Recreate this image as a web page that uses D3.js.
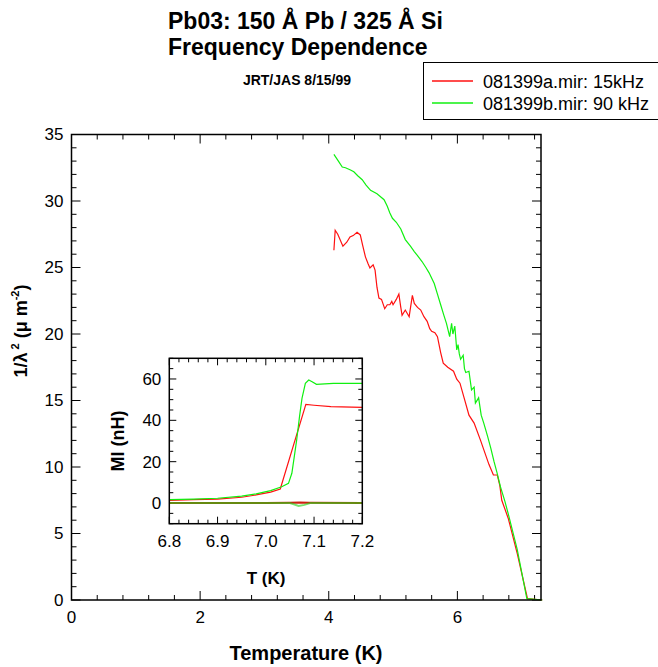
<!DOCTYPE html>
<html><head><meta charset="utf-8">
<script src="https://cdn.jsdelivr.net/npm/d3@7/dist/d3.min.js"></script>
<style>body{margin:0;background:#fff}svg{display:block}text{font-family:"Liberation Sans",Arial,sans-serif;fill:#000}</style>
</head><body>
<svg id="c" width="658" height="667"></svg>
<script>
// ---- data ----
const redT = [4.08,4.10,4.14,4.22,4.28,4.33,4.38,4.44,4.49,4.53,4.57,4.61,4.64,4.69,4.72,4.75,4.78,4.82,4.87,4.91,4.95,4.98,5.00,5.05,5.09,5.12,5.14,5.19,5.25,5.30,5.33,5.38,5.43,5.48,5.53,5.57,5.60,5.65,5.69,5.74,5.78,5.85,5.94,5.99,6.04,6.11,6.18,6.26,6.36,6.49,6.56,6.62,6.66,6.69,6.79,6.93,7.09,7.32];
const redV = [26.3,27.8,27.5,26.6,26.9,27.3,27.4,27.65,27.45,26.6,25.8,25.3,24.96,25.2,24.8,23.5,22.7,22.6,21.9,22.2,22.2,22.45,22.2,22.6,23.0,22.0,21.4,21.8,21.3,22.9,22.3,22.0,21.8,21.3,20.95,20.4,20.2,20.1,19.8,18.6,17.8,17.5,17.2,16.6,16.3,15.1,13.9,13.3,12.0,10.2,9.4,9.4,8.6,7.5,6.15,3.5,0.1,0.0];
const greenT = [4.08,4.15,4.21,4.26,4.33,4.39,4.45,4.52,4.58,4.65,4.75,4.86,4.91,4.95,4.99,5.05,5.12,5.19,5.27,5.33,5.38,5.45,5.51,5.56,5.64,5.69,5.74,5.79,5.83,5.88,5.91,5.93,5.96,5.99,6.01,6.03,6.05,6.09,6.11,6.13,6.18,6.22,6.26,6.28,6.33,6.37,6.41,6.47,6.52,6.57,6.62,6.67,6.74,6.80,6.93,7.08,7.32];
const greenV = [33.5,33.0,32.55,32.5,32.35,32.2,31.9,31.6,31.2,30.8,30.55,30.1,29.6,29.1,28.7,28.4,27.9,27.1,26.6,26.2,25.9,25.45,25.0,24.6,23.8,23.0,22.2,21.4,20.8,19.8,20.8,20.0,20.6,18.8,19.2,18.5,18.1,18.4,17.4,17.1,17.2,15.8,16.0,14.8,15.2,13.9,13.3,12.3,11.4,10.4,9.5,8.5,7.4,6.3,3.8,0.1,0.0];

const insetRedT = [6.80,6.85,6.90,6.95,6.98,7.01,7.03,7.083,7.10,7.135,7.20];
const insetRedV = [1.3,1.6,1.9,2.8,3.9,5.3,6.8,47.7,47.3,46.6,46.3];
const insetGreenT = [6.80,6.85,6.90,6.95,6.98,7.01,7.033,7.047,7.054,7.060,7.064,7.070,7.075,7.082,7.089,7.096,7.105,7.14,7.20];
const insetGreenV = [1.6,1.9,2.3,3.3,4.4,6.0,7.9,9.5,14.4,24,30.5,42,50.6,57.9,59.5,58.7,57.4,57.9,57.9];
const insetRedLowT = [6.80,7.00,7.05,7.07,7.09,7.20];
const insetRedLowV = [0.0,0.0,0.1,0.2,0.1,0.0];
const insetGreenLowT = [6.80,7.05,7.058,7.068,7.08,7.092,7.20];
const insetGreenLowV = [0.0,0.0,-0.6,-1.4,-0.9,0.0,0.0];

const legendLabels = ["081399a.mir: 15kHz","081399b.mir: 90 kHz"];
const xTicks = [0,2,4,6];
const yTicks = [0,5,10,15,20,25,30,35];
const insetXTicks = [6.8,6.9,7.0,7.1,7.2];
const insetYTicks = [0,20,40,60];

const RED = "#ff1010", GREEN = "#10f010";
const svg = d3.select("#c");

function zip(a,b){return a.map((t,i)=>[t,b[i]]);}

function frame(g, x, y, xMaj, xMin, yMaj, yMin, majL, minL, fs, xFmt, yFmt){
  const [x0,x1] = x.range(), [y0,y1] = y.range();
  g.append("rect").attr("x",x0).attr("y",y1).attr("width",x1-x0).attr("height",y0-y1)
    .attr("fill","#fff").attr("stroke","none");
  const tk = g.append("g").attr("stroke","#000").attr("stroke-width",1);
  xMin.forEach(v=>{const p=x(v);
    tk.append("line").attr("x1",p).attr("x2",p).attr("y1",y0).attr("y2",y0-minL);
    tk.append("line").attr("x1",p).attr("x2",p).attr("y1",y1).attr("y2",y1+minL);});
  xMaj.forEach(v=>{const p=x(v);
    tk.append("line").attr("x1",p).attr("x2",p).attr("y1",y0).attr("y2",y0-majL);
    tk.append("line").attr("x1",p).attr("x2",p).attr("y1",y1).attr("y2",y1+majL);});
  yMin.forEach(v=>{const p=y(v);
    tk.append("line").attr("y1",p).attr("y2",p).attr("x1",x0).attr("x2",x0+minL);
    tk.append("line").attr("y1",p).attr("y2",p).attr("x1",x1).attr("x2",x1-minL);});
  yMaj.forEach(v=>{const p=y(v);
    tk.append("line").attr("y1",p).attr("y2",p).attr("x1",x0).attr("x2",x0+majL);
    tk.append("line").attr("y1",p).attr("y2",p).attr("x1",x1).attr("x2",x1-majL);});
  xMaj.forEach(v=>g.append("text").attr("x",x(v)).attr("y",y0+fs+6).attr("text-anchor","middle")
    .attr("font-size",fs).text(xFmt(v)));
  yMaj.forEach(v=>g.append("text").attr("x",x0-8).attr("y",y(v)).attr("dy","0.35em").attr("text-anchor","end")
    .attr("font-size",fs).text(yFmt(v)));
}
function border(g,x,y){
  const [x0,x1] = x.range(), [y0,y1] = y.range();
  g.append("rect").attr("x",x0).attr("y",y1).attr("width",x1-x0).attr("height",y0-y1)
    .attr("fill","none").attr("stroke","#000").attr("stroke-width",1.5);
}

// ---- main plot ----
const x = d3.scaleLinear().domain([0,7.3]).range([71.5,541]);
const y = d3.scaleLinear().domain([0,35]).range([600,134.5]);
const main = svg.append("g");
frame(main, x, y, xTicks, d3.range(0.4,7.3,0.4).filter(v=>Math.abs(v/2-Math.round(v/2))>0.01),
  yTicks, d3.range(1,35,1).filter(v=>v%5!==0), 9, 5, 17, d3.format("d"), d3.format("d"));
const line = d3.line().x(d=>x(d[0])).y(d=>y(d[1]));
main.append("path").attr("d",line(zip(redT,redV))).attr("fill","none").attr("stroke",RED).attr("stroke-width",1.2);
main.append("path").attr("d",line(zip(greenT,greenV))).attr("fill","none").attr("stroke",GREEN).attr("stroke-width",1.2);
border(main,x,y);

main.append("text").attr("x",306).attr("y",660).attr("text-anchor","middle").attr("font-size",20)
  .attr("font-weight","bold").text("Temperature (K)");
const yl = main.append("text").attr("transform","translate(27,331) rotate(-90)").attr("text-anchor","middle")
  .attr("font-size",18).attr("font-weight","bold");
yl.append("tspan").text("1/λ");
yl.append("tspan").attr("font-size",11).attr("dy",-8).attr("dx",3).text("2");
yl.append("tspan").attr("dy",8).text(" (μ m");
yl.append("tspan").attr("font-size",11).attr("dy",-8).text("-2");
yl.append("tspan").attr("dy",8).text(")");

// ---- inset ----
const xi = d3.scaleLinear().domain([6.8,7.2]).range([169.3,362.3]);
const yi = d3.scaleLinear().domain([-10,70]).range([523.7,358.3]);
const ins = svg.append("g");
frame(ins, xi, yi, insetXTicks, d3.range(6.82,7.2,0.02).filter(v=>Math.abs(v*10-Math.round(v*10))>0.01),
  insetYTicks, d3.range(-10,71,5).filter(v=>v%20!==0), 7, 4, 17, d3.format(".1f"), d3.format("d"));
const li = d3.line().x(d=>xi(d[0])).y(d=>yi(d[1]));
ins.append("path").attr("d",li(zip(insetRedLowT,insetRedLowV))).attr("fill","none").attr("stroke","#d02010").attr("stroke-width",2);
ins.append("path").attr("d",li(zip(insetGreenLowT,insetGreenLowV))).attr("fill","none").attr("stroke","#20d010").attr("stroke-width",2).attr("stroke-opacity",0.6);
ins.append("path").attr("d",li(zip(insetRedT,insetRedV))).attr("fill","none").attr("stroke",RED).attr("stroke-width",1.2);
ins.append("path").attr("d",li(zip(insetGreenT,insetGreenV))).attr("fill","none").attr("stroke",GREEN).attr("stroke-width",1.2);
border(ins,xi,yi);
ins.append("text").attr("x",266).attr("y",584).attr("text-anchor","middle").attr("font-size",17)
  .attr("font-weight","bold").text("T (K)");
ins.append("text").attr("transform","translate(124,441) rotate(-90)").attr("text-anchor","middle")
  .attr("font-size",18).attr("font-weight","bold").text("MI (nH)");

// ---- title ----
svg.append("text").attr("x",168).attr("y",29).attr("font-size",23).attr("font-weight","bold").text("Pb03: 150 Å Pb / 325 Å Si");
svg.append("text").attr("x",168).attr("y",55).attr("font-size",23).attr("font-weight","bold").text("Frequency Dependence");
svg.append("text").attr("x",297).attr("y",85).attr("text-anchor","middle").attr("font-size",14).attr("font-weight","bold").text("JRT/JAS 8/15/99");

// ---- legend ----
const lg = svg.append("g");
lg.append("rect").attr("x",423.5).attr("y",62.5).attr("width",250).attr("height",57).attr("fill","#fff").attr("stroke","#000").attr("stroke-width",1);
[RED,GREEN].forEach((c,i)=>{
  const yy = 81 + i*22;
  lg.append("line").attr("x1",432).attr("x2",473).attr("y1",yy).attr("y2",yy)
    .style("stroke",c).attr("stroke-width",1.5);
  lg.append("text").attr("x",483).attr("y",yy+7).attr("font-size",18).text(legendLabels[i]);
});
</script>
</body></html>
